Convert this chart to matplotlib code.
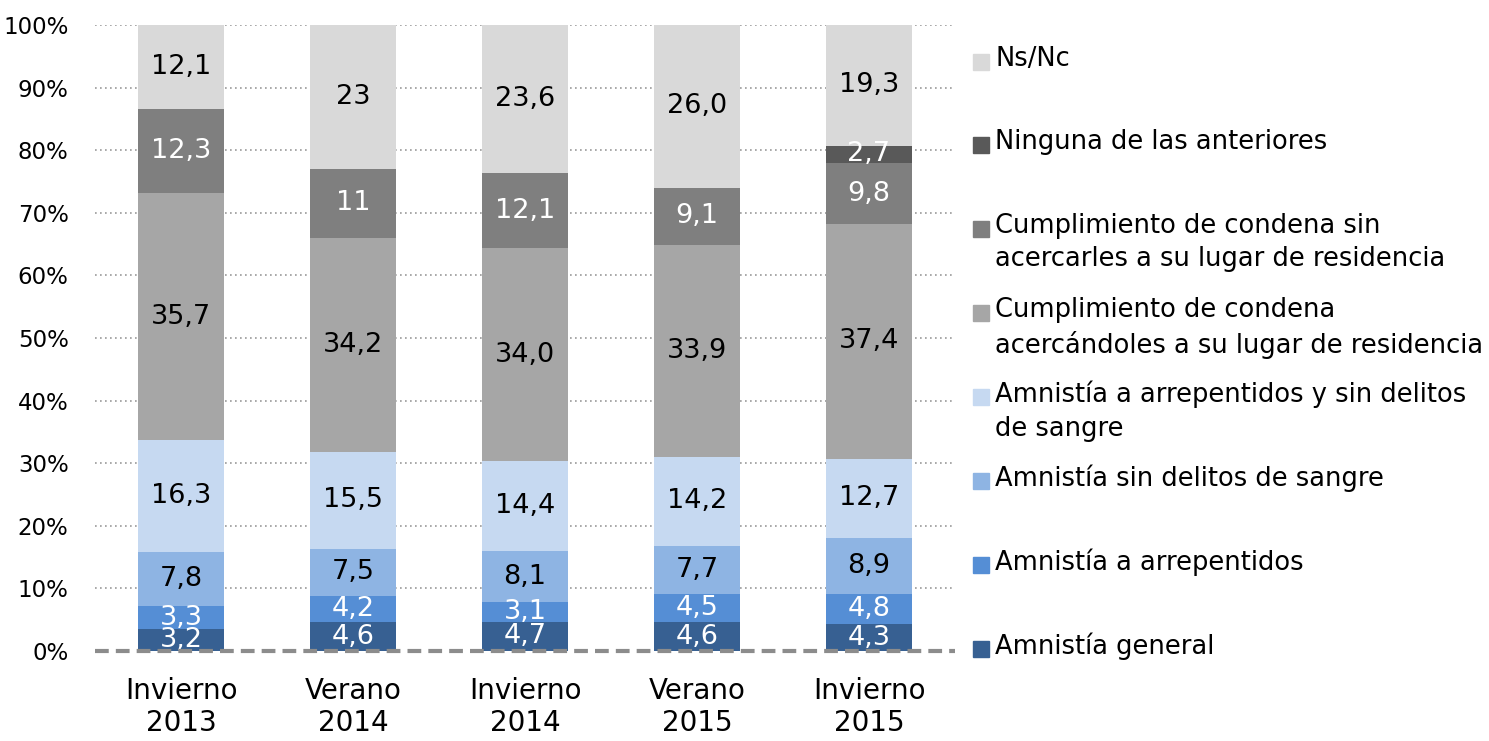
import numpy as np
import matplotlib.pyplot as plt
from matplotlib.patches import Rectangle

periods = ["Invierno\n2013", "Verano\n2014", "Invierno\n2014", "Verano\n2015", "Invierno\n2015"]

series = ["Amnistía general",
          "Amnistía a arrepentidos",
          "Amnistía sin delitos de sangre",
          "Amnistía a arrepentidos y sin delitos\nde sangre",
          "Cumplimiento de condena\nacercándoles a su lugar de residencia",
          "Cumplimiento de condena sin\nacercarles a su lugar de residencia",
          "Ninguna de las anteriores",
          "Ns/Nc"]

amnistia_general = [3.2, 4.6, 4.7, 4.6, 4.3]
amnistia_arrepentidos = [3.3, 4.2, 3.1, 4.5, 4.8]
amnistia_sin_delitos = [7.8, 7.5, 8.1, 7.7, 8.9]
amnistia_arr_sin_delitos = [16.3, 15.5, 14.4, 14.2, 12.7]
condena_acercandoles = [35.7, 34.2, 34.0, 33.9, 37.4]
condena_sin_acercarles = [12.3, 11, 12.1, 9.1, 9.8]
ninguna = [0, 0, 0, 0, 2.7]
ns_nc = [12.1, 23, 23.6, 26.0, 19.3]

colors = ["#376092", "#558ED5", "#8EB4E3", "#C6D9F1",
          "#A6A6A6", "#7F7F7F", "#595959", "#D9D9D9"]
text_colors = ["white", "white", "black", "black",
               "black", "white", "white", "black"]

raw = [amnistia_general, amnistia_arrepentidos, amnistia_sin_delitos,
       amnistia_arr_sin_delitos, condena_acercandoles,
       condena_sin_acercarles, ninguna, ns_nc]
data = np.array(raw, dtype=float)
pct = data / data.sum(axis=0) * 100

def fmt(v):
    if isinstance(v, int):
        return str(v)
    return f"{v:.1f}".replace(".", ",")

plt.rcParams['font.family'] = ['DejaVu Sans']

fig = plt.figure(figsize=(14.89, 7.41), dpi=100)
ax = fig.add_axes([95/1489, 1-651/741, 860/1489, 626/741])

x = np.arange(len(periods))
bottom = np.zeros(len(periods))
for i in range(len(series)):
    ax.bar(x, pct[i], 0.5, bottom=bottom, color=colors[i], zorder=3)
    for j in range(len(periods)):
        if raw[i][j] != 0:
            ax.text(x[j], bottom[j] + pct[i][j] / 2, fmt(raw[i][j]),
                    ha="center", va="center", fontsize=19.5,
                    color=text_colors[i], zorder=4)
    bottom += pct[i]

ax.set_xlim(-0.5, 4.5)
ax.set_ylim(0, 100)
ax.set_yticks(np.arange(0, 101, 10))
ax.set_yticklabels([f"{t}%" for t in range(0, 101, 10)], fontsize=16.5)
ax.set_xticks(x)
ax.set_xticklabels(periods, fontsize=20, linespacing=1.15)
ax.tick_params(length=0)
ax.tick_params(axis="y", pad=19)
ax.tick_params(axis="x", pad=19)
for s in ax.spines.values():
    s.set_visible(False)
for t in range(10, 101, 10):
    ax.axhline(t, linestyle=(0, (1, 2)), color="#999999", linewidth=1.2, zorder=0)
ax.axhline(0, color="#8C8C8C", linestyle=(0, (3.3, 1.7)), linewidth=3, zorder=5, clip_on=False)

# legend drawn by hand, entries evenly spaced
leg_y = [649, 565, 481, 397, 313, 229, 145, 62]
for i in range(len(series)):
    yf = 1 - leg_y[i] / 741
    fig.patches.append(Rectangle((973/1489, yf - 8/741), 16/1489, 16/741,
                                 transform=fig.transFigure, color=colors[i]))
    fig.text(995/1489, yf + 16/741, series[i], fontsize=18.5, va="top", ha="left",
             linespacing=1.35)

fig.savefig("out.png", dpi=100)
